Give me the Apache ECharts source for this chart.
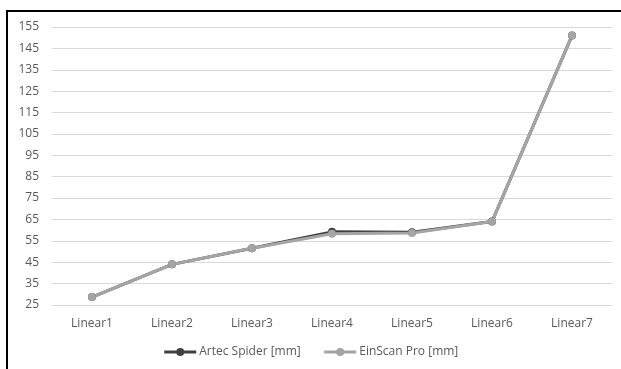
<!DOCTYPE html>
<html>
<head>
<meta charset="utf-8">
<script src="https://cdn.jsdelivr.net/npm/echarts@6/dist/echarts.min.js"></script>
<style>
  html, body { margin: 0; padding: 0; background: #fff; }
  #chart { width: 621px; height: 369px; }
</style>
</head>
<body>
<div id="chart"></div>
<script>
// Measured lengths for the seven linear features
const categories = ['Linear1', 'Linear2', 'Linear3', 'Linear4', 'Linear5', 'Linear6', 'Linear7'];
const artecSpider = [28.7, 44.0, 51.5, 59.2, 59.0, 64.0, 151.0];
const einScanPro = [28.7, 44.0, 51.5, 58.3, 58.7, 64.0, 151.0];
const seriesNames = ['Artec Spider [mm]', 'EinScan Pro [mm]'];

const textColor = '#595959';
const font = '"Open Sans", "Liberation Sans", sans-serif';

const chart = echarts.init(document.getElementById('chart'), null, { renderer: 'canvas' });

function lineSeries(name, data, color) {
  return {
    name: name,
    type: 'line',
    data: data,
    symbol: 'circle',
    symbolSize: 8,
    showSymbol: true,
    lineStyle: { color: color, width: 3 },
    itemStyle: { color: color },
    emphasis: { disabled: true },
    animation: false
  };
}

chart.setOption({
  animation: false,
  backgroundColor: '#fff',
  graphic: [{
    type: 'polyline',
    shape: { points: [[7, 369], [7, 11], [621, 11]] },
    style: { stroke: '#000', lineWidth: 2, fill: null }
  }],
  grid: { left: 52, right: 9, top: 27, bottom: 64 },
  legend: {
    bottom: 6,
    left: 'center',
    itemWidth: 32,
    itemHeight: 10,
    itemGap: 22,
    lineStyle: { width: 3 },
    textStyle: { color: textColor, fontFamily: font, fontSize: 12, padding: [0, 0, 0, -2] },
    data: seriesNames
  },
  xAxis: {
    type: 'category',
    data: categories,
    boundaryGap: true,
    axisLine: { show: false },
    axisTick: { show: false },
    axisLabel: { color: textColor, fontFamily: font, fontSize: 12, margin: 13 }
  },
  yAxis: {
    type: 'value',
    min: 25,
    max: 155,
    interval: 10,
    axisLine: { show: false },
    axisTick: { show: false },
    axisLabel: { color: textColor, fontFamily: font, fontSize: 12, margin: 13 },
    splitLine: { lineStyle: { color: '#d9d9d9', width: 1 } }
  },
  series: [
    lineSeries(seriesNames[0], artecSpider, '#404040'),
    lineSeries(seriesNames[1], einScanPro, '#a5a5a5')
  ]
});
</script>
</body>
</html>
